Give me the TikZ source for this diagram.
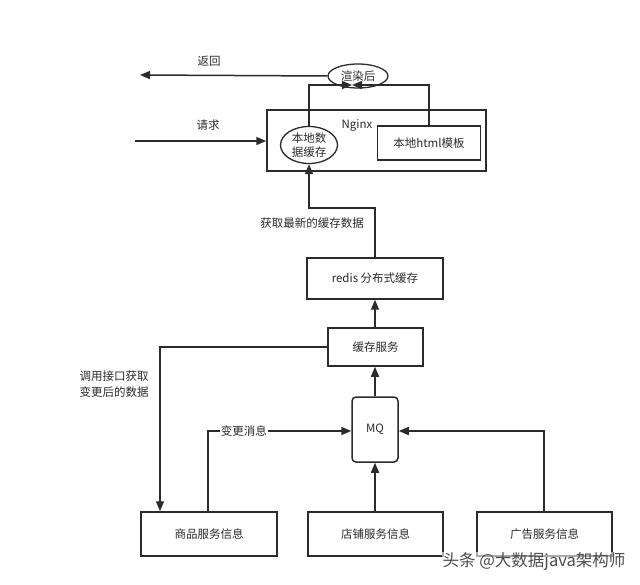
\documentclass[tikz,border=0pt]{standalone}
\usepackage{fontspec}
\setmainfont{Noto Sans CJK SC}
\usetikzlibrary{arrows.meta,shapes.geometric}
\definecolor{ln}{HTML}{2B2B2B}
\definecolor{tx}{HTML}{2B2B2B}
\tikzset{
  box/.style={draw=ln,line width=1.5pt,fill=white,inner sep=0pt,text=tx,font=\fontsize{11.5}{13}\selectfont},
  oval/.style={draw=ln,line width=1.3pt,fill=white,ellipse,inner sep=0pt,text=tx,font=\fontsize{11.5}{14}\selectfont,align=center},
  conn/.style={draw=ln,line width=1.5pt},
  arr/.style={conn,-{Triangle[length=10pt,width=8pt]}},
  lbl/.style={text=tx,font=\fontsize{11.5}{16}\selectfont,inner sep=1pt}
}
\begin{document}
\begin{tikzpicture}[x=1pt,y=-1pt]
\useasboundingbox (0,0) rectangle (640,585);
\fill[white] (0,0) rectangle (640,585);
% Nginx box
\node[box,minimum width=219pt,minimum height=61pt] (nginx) at (376.5,140.5) {};
\node[lbl] (nginxl) at (357,125) {Nginx};
\node[box,minimum width=103pt,minimum height=34pt] (html) at (429,143) {本地html模板};
\node[oval,minimum width=57pt,minimum height=37pt] (cache) at (309,145) {本地数\\据缓存};
\node[oval,minimum width=60pt,minimum height=24pt] (render) at (358,76) {渲染后};
\coordinate (meet) at (352,85);
% request / return
\coordinate (reqin) at (135,141);
\coordinate (retout) at (140,75);
\draw[arr] (reqin) -- (reqin -| nginx.west);
\node[lbl] (reql) at (208,125) {请求};
\draw[arr] (render.west) -- (retout);
\node[lbl] (retl) at (209,61) {返回};
\draw[arr] (cache.north) |- (meet);
\draw[arr] (html.north) |- (meet);
% redis etc.
\node[box,minimum width=136pt,minimum height=41pt] (redis) at (375,278.5) {redis 分布式缓存};
\node[box,minimum width=95pt,minimum height=38pt] (svc) at (375.5,347) {缓存服务};
\node[box,rounded corners=4pt,minimum width=46pt,minimum height=65pt] (mq) at (375,429.5) {MQ};
\node[box,minimum width=136pt,minimum height=44pt] (goods) at (209,534) {商品服务信息};
\node[box,minimum width=135pt,minimum height=44pt] (shop) at (375.5,534) {店铺服务信息};
\node[box,minimum width=135pt,minimum height=44pt] (ad) at (544.5,534) {广告服务信息};
\coordinate (r1) at (375,208);
\draw[arr] (redis.north -| r1) -- (r1) -| (cache.south);
\node[lbl] (getl) at (312,223) {获取最新的缓存数据};
\draw[arr] (svc.north -| redis.south) -- (redis.south);
\draw[arr] (mq.north) -- (mq.north |- svc.south);
\coordinate (g1) at (160,347);
\draw[arr] (svc.west) -- (g1) -- (g1 |- goods.north);
\node[lbl,align=center] (calll) at (114,384) {调用接口获取\\变更后的数据};
\coordinate (g2) at (208,431);
\draw[arr] (g2 |- goods.north) -- (g2) -- (g2 -| mq.west) node[pos=0.25,fill=white,lbl] (chgl) {变更消息};
\draw[arr] (shop.north -| mq.south) -- (mq.south);
\coordinate (a1) at (544,431);
\draw[arr] (a1 |- ad.north) -- (a1) -- (a1 -| mq.east);
% watermark
\node[text=black!70,font=\fontsize{16.5}{18}\selectfont,inner sep=1pt,fill=white,fill opacity=0.6,text opacity=1] (wm) at (534,562) {头条 @大数据java架构师};
\end{tikzpicture}
\end{document}
